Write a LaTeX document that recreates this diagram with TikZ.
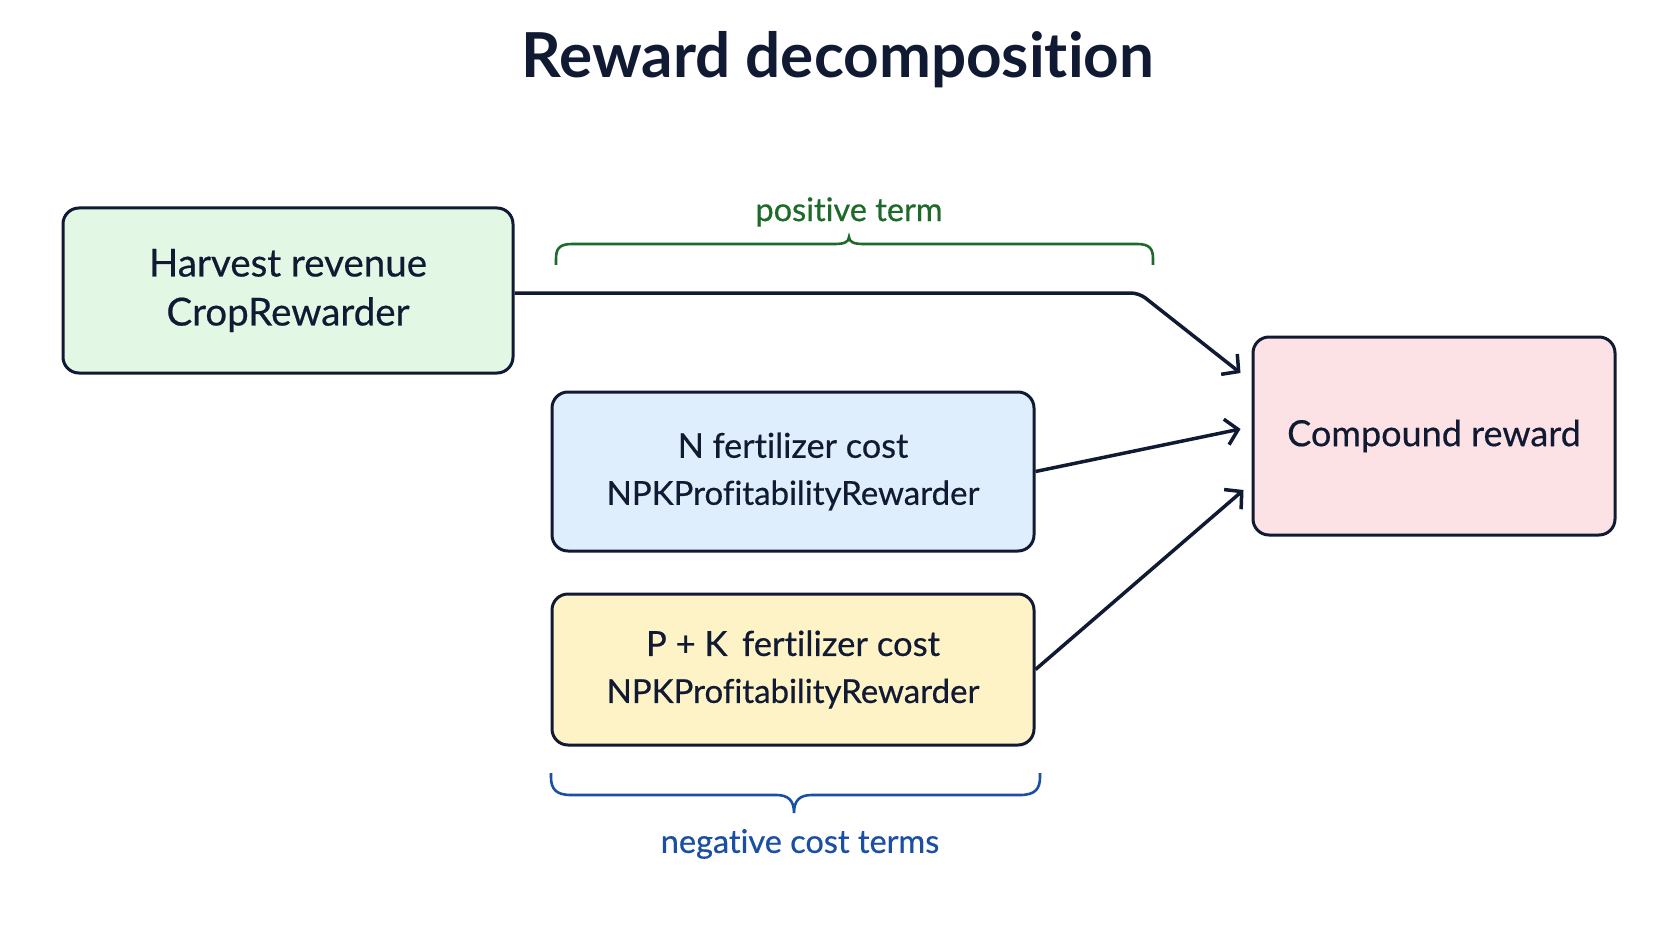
\documentclass[tikz,border=0pt]{standalone}
\usepackage{fontspec}
\setmainfont{Lato}[Ligatures=NoCommon]
\usetikzlibrary{arrows.meta,calc}
\definecolor{ink}{HTML}{111A33}
\definecolor{gfill}{HTML}{E3F8E4}
\definecolor{bfill}{HTML}{DFEEFC}
\definecolor{yfill}{HTML}{FDF3C6}
\definecolor{pfill}{HTML}{FDE2E5}
\definecolor{posgreen}{HTML}{1E6A2A}
\definecolor{negblue}{HTML}{1B4FA3}
\newcommand{\medw}{\addfontfeatures{FakeBold=0.5}}
\newcommand{\npksize}{\fontsize{33}{47}\selectfont\medw}
\tikzset{
  box/.style={draw=ink, line width=3pt, rounded corners=16pt, align=center, inner sep=0pt,
    text=ink},
  arr/.style={draw=ink, line width=3.5pt, -{Straight Barb[length=12pt,width=26pt,line width=3.5pt]}},
  bracepath/.style={line width=2.6pt},
  lbl/.style={font=\fontsize{32.5}{38}\selectfont\medw, inner sep=0pt}
}
\begin{document}
\begin{tikzpicture}[x=1pt,y=-1pt]
\useasboundingbox[fill=white] (0,0) rectangle (1672,941);
\node[text=ink, font=\fontsize{62}{68}\selectfont\bfseries] (title) at (838,60) {Reward decomposition};

\node[box, fill=gfill, minimum width=450pt, minimum height=165pt, font=\fontsize{38.5}{49}\selectfont\medw] (harvest) at (288,290.5) {Harvest revenue\\CropRewarder};
\node[box, fill=bfill, minimum width=482pt, minimum height=159pt, font=\fontsize{34.2}{47}\selectfont\medw] (ncost) at (793,471.5) {N fertilizer cost\\\npksize NPKProfitabilityRewarder};
\node[box, fill=yfill, minimum width=482pt, minimum height=151pt, font=\fontsize{34.6}{47}\selectfont\medw] (pkcost) at (793,669.5) {P + K\, fertilizer cost\\\npksize NPKProfitabilityRewarder};
\node[box, fill=pfill, minimum width=362pt, minimum height=198pt, font=\fontsize{36}{47}\selectfont\medw] (compound) at (1434,436) {Compound reward};

\coordinate (bend) at (1139,293);
\draw[arr, rounded corners=8pt] (harvest.east |- bend) -- (bend) -- ($(compound.west)+(-11,-63)$);
\draw[arr] (ncost.east) -- ($(compound.west)+(-11,-7)$);
\draw[arr] (pkcost.east) -- ($(compound.west)+(-8,54)$);

% positive brace
\draw[posgreen, bracepath] (556,265) -- (556,259) .. controls (556,249) and (559,244) .. (572,244)
  -- (835,244) .. controls (844,244) and (849,242) .. (849,237)
  .. controls (849,242) and (854,244) .. (863,244)
  -- (1137,244) .. controls (1150,244) and (1153,249) .. (1153,259) -- (1153,265);
\node[lbl, text=posgreen] (poslbl) at (849,212) {positive term};

% negative brace
\draw[negblue, bracepath] (551,773) -- (551,777) .. controls (551,789) and (556,795) .. (571,795)
  -- (776,795) .. controls (788,795) and (794,800) .. (794,813)
  .. controls (794,800) and (800,795) .. (812,795)
  -- (1020,795) .. controls (1035,795) and (1040,789) .. (1040,777) -- (1040,773);
\node[lbl, text=negblue] (neglbl) at (800,844) {negative cost terms};
\end{tikzpicture}
\end{document}
